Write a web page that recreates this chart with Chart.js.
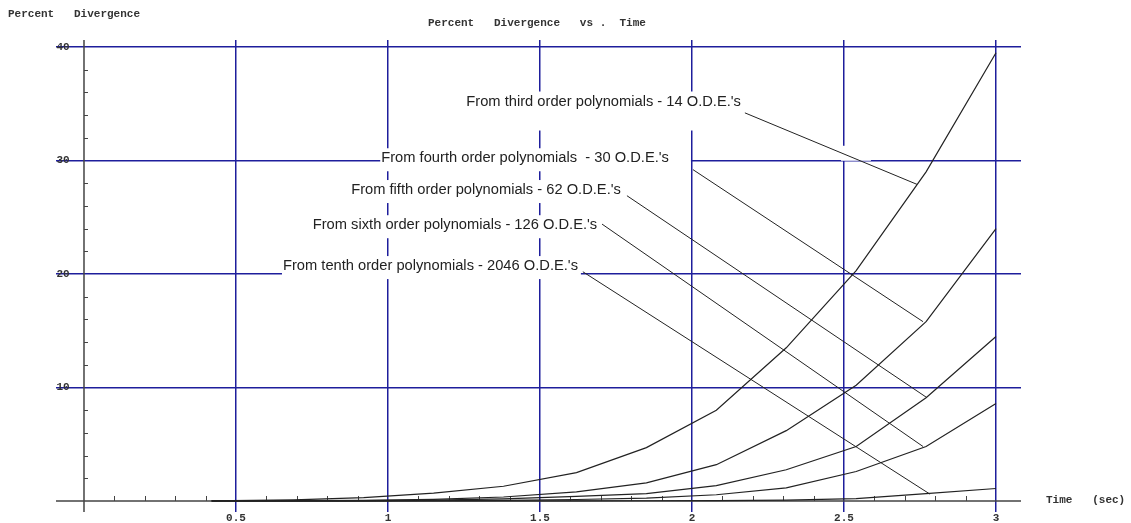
<!DOCTYPE html>
<html>
<head>
<meta charset="utf-8">
<script src="https://cdn.jsdelivr.net/npm/chart.js@4.4.1/dist/chart.umd.min.js"></script>
<style>
  html, body { margin: 0; padding: 0; background: #fff; }
  #wrap { width: 1131px; height: 523px; }
</style>
</head>
<body>
<div id="wrap"><canvas id="grafico" width="1131" height="523"></canvas></div>
<script>
// valores (tempo em segundos, divergencia em %)
const tempos = [0.42, 0.69, 0.92, 1.15, 1.38, 1.62, 1.85, 2.08, 2.31, 2.54, 2.77, 3.0];
const terceiraOrdem = [0.02, 0.1, 0.3, 0.7, 1.3, 2.5, 4.7, 8.0, 13.5, 20.3, 29.0, 39.5];
const quartaOrdem   = [0.01, 0.03, 0.06, 0.15, 0.35, 0.8, 1.6, 3.2, 6.2, 10.2, 15.8, 24.0];
const quintaOrdem   = [0, 0.01, 0.03, 0.08, 0.18, 0.4, 0.65, 1.35, 2.75, 4.8, 9.1, 14.5];
const sextaOrdem    = [0, 0, 0.01, 0.02, 0.06, 0.13, 0.25, 0.55, 1.15, 2.6, 4.8, 8.6];
const decimaOrdem   = [0, 0, 0, 0, 0, 0.01, 0.02, 0.03, 0.08, 0.2, 0.65, 1.1];

const ticksX = [0.5, 1, 1.5, 2, 2.5, 3];
const rotulosX = ["0.5", "1", "1.5", "2", "2.5", "3"];
const ticksY = [10, 20, 30, 40];
const rotulosY = ["10", "20", "30", "40"];

const textos = [
  "From third order polynomials - 14 O.D.E.'s",
  "From fourth order polynomials  - 30 O.D.E.'s",
  "From fifth order polynomials - 62 O.D.E.'s",
  "From sixth order polynomials - 126 O.D.E.'s",
  "From tenth order polynomials - 2046 O.D.E.'s"
];
// ponta das setas: inicio (perto do texto) e fim (na curva)
const setaInicio = [[2.174, 34.2], [2.003, 29.2], [1.786, 26.9], [1.704, 24.4], [1.641, 20.2]];
const setaFim    = [[2.74, 27.9], [2.76, 15.8], [2.773, 9.1], [2.76, 4.8], [2.783, 0.6]];
// ancora do texto (canto direito, meio)
const textoAncora = [[2.161, 35.2], [1.924, 30.2], [1.766, 27.4], [1.688, 24.3], [1.625, 20.7]];

const series = [terceiraOrdem, quartaOrdem, quintaOrdem, sextaOrdem, decimaOrdem];

function pontos(ys) {
  return tempos.map((t, i) => ({ x: t, y: ys[i] }));
}

const datasets = series.map(ys => ({
  data: pontos(ys),
  borderColor: '#222',
  borderWidth: 1.2,
  pointRadius: 0,
  tension: 0,
  fill: false
}));
setaInicio.forEach((p, i) => {
  datasets.push({
    data: [{ x: p[0], y: p[1] }, { x: setaFim[i][0], y: setaFim[i][1] }],
    borderColor: '#222',
    borderWidth: 1,
    pointRadius: 0,
    fill: false
  });
});

const azul = '#1e1e9c';
const fonteEixo = 'bold 11px "Liberation Mono", "DejaVu Sans Mono", monospace';
const fonteTexto = '14.7px "Liberation Sans", Arial, sans-serif';

const desenhos = {
  id: 'desenhos',
  beforeDatasetsDraw(chart) {
    const { ctx, chartArea, scales } = chart;
    const sx = scales.x, sy = scales.y;
    ctx.save();
    // caixas brancas dos textos (tapam a grade)
    ctx.font = fonteTexto;
    textos.forEach((txt, i) => {
      const xr = sx.getPixelForValue(textoAncora[i][0]);
      const yc = sy.getPixelForValue(textoAncora[i][1]);
      const w = ctx.measureText(txt).width;
      const xFim = sx.getPixelForValue(setaInicio[i][0]) - 2;
      const baixo = i === 0 ? 29 : 13;
      ctx.fillStyle = '#fff';
      ctx.fillRect(xr - w - 1, yc - 10, xFim - (xr - w - 1), 10 + baixo);
    });
    // pequena falha na grade perto da primeira seta
    ctx.fillRect(sx.getPixelForValue(2.49), sy.getPixelForValue(31.3), 30, 15);

    // eixos
    const x0 = sx.getPixelForValue(0);
    const y0 = sy.getPixelForValue(0);
    ctx.strokeStyle = '#444';
    ctx.lineWidth = 1.5;
    ctx.beginPath();
    ctx.moveTo(chartArea.left, y0);
    ctx.lineTo(chartArea.right, y0);
    ctx.moveTo(x0, chartArea.top);
    ctx.lineTo(x0, chartArea.bottom);
    ctx.stroke();
    // marcas menores
    ctx.lineWidth = 1;
    ctx.beginPath();
    for (let k = 1; k <= 30; k++) {
      if (k % 5 === 0) continue;
      const px = Math.round(sx.getPixelForValue(k / 10)) + 0.5;
      ctx.moveTo(px, y0);
      ctx.lineTo(px, y0 - 5);
    }
    for (let k = 2; k < 40; k += 2) {
      if (k % 10 === 0) continue;
      const py = Math.round(sy.getPixelForValue(k)) + 0.5;
      ctx.moveTo(x0, py);
      ctx.lineTo(x0 + 4, py);
    }
    ctx.stroke();
    ctx.restore();
  },
  afterDatasetsDraw(chart) {
    const { ctx, scales } = chart;
    const sx = scales.x, sy = scales.y;
    ctx.save();
    ctx.fillStyle = '#222';
    ctx.font = fonteTexto;
    ctx.textAlign = 'right';
    ctx.textBaseline = 'middle';
    textos.forEach((txt, i) => {
      ctx.fillText(txt, sx.getPixelForValue(textoAncora[i][0]), sy.getPixelForValue(textoAncora[i][1]));
    });

    ctx.font = fonteEixo;
    ctx.fillStyle = '#333';
    ctx.textAlign = 'center';
    const y0 = sy.getPixelForValue(0);
    ticksX.forEach((v, i) => {
      ctx.fillText(rotulosX[i], sx.getPixelForValue(v), y0 + 17);
    });
    ticksY.forEach((v, i) => {
      ctx.fillText(rotulosY[i], 63, sy.getPixelForValue(v));
    });
    ctx.textAlign = 'left';
    ctx.fillText('Time   (sec)', 1046, y0 - 1);
    ctx.fillText('Percent   Divergence', 8, 14);
    ctx.fillText('Percent   Divergence   vs .  Time', 428, 23);
    ctx.restore();
  }
};

const ctx = document.getElementById('grafico').getContext('2d');
window.chart = new Chart(ctx, {
  type: 'line',
  data: { datasets: datasets },
  options: {
    responsive: false,
    animation: false,
    events: [],
    layout: { padding: { left: 56, right: 110, top: 40, bottom: 11 } },
    plugins: { legend: { display: false }, tooltip: { enabled: false }, title: { display: false } },
    scales: {
      x: {
        type: 'linear',
        min: -0.0921,
        max: 3.0822,
        afterBuildTicks: s => { s.ticks = ticksX.map(v => ({ value: v })); },
        ticks: { display: false },
        border: { display: false },
        grid: { color: azul, lineWidth: 1.5, drawTicks: false }
      },
      y: {
        type: 'linear',
        min: -0.97,
        max: 40.62,
        afterBuildTicks: s => { s.ticks = ticksY.map(v => ({ value: v })); },
        ticks: { display: false },
        border: { display: false },
        grid: { color: azul, lineWidth: 1.5, drawTicks: false }
      }
    }
  },
  plugins: [desenhos]
});
</script>
</body>
</html>
